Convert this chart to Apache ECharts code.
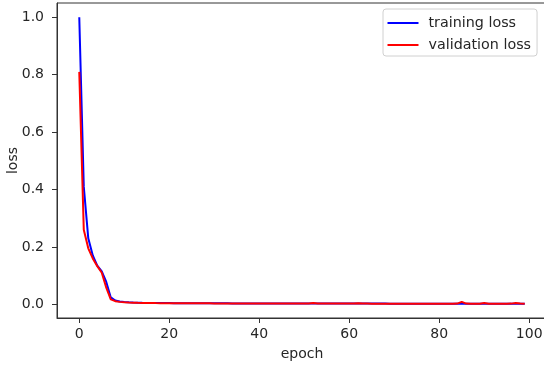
<!DOCTYPE html>
<html>
<head>
<meta charset="utf-8">
<script src="https://cdn.jsdelivr.net/npm/echarts@6/dist/echarts.min.js"></script>
<style>html,body{margin:0;padding:0;background:#fff}#c{width:544px;height:367px}</style>
</head>
<body>
<div id="c"></div>
<script>
const trainLoss = [
  1.0, 0.41, 0.23, 0.17, 0.135, 0.115, 0.078, 0.024, 0.013, 0.0095,
  0.0078, 0.0068, 0.0062, 0.0057, 0.0053, 0.005, 0.0048, 0.0046, 0.0044, 0.0043,
  0.0042, 0.0041, 0.004, 0.0039, 0.0038, 0.0037, 0.0037, 0.0036, 0.0035, 0.0035,
  0.0034, 0.0034, 0.0033, 0.0033, 0.0032, 0.0032, 0.0031, 0.0031, 0.0031, 0.003,
  0.003, 0.003, 0.0029, 0.0029, 0.0029, 0.0028, 0.0028, 0.0028, 0.0028, 0.0027,
  0.0027, 0.0027, 0.0027, 0.0026, 0.0026, 0.0026, 0.0026, 0.0026, 0.0025, 0.0025,
  0.0025, 0.0025, 0.0025, 0.0024, 0.0024, 0.0024, 0.0024, 0.0024, 0.0024, 0.0023,
  0.0023, 0.0023, 0.0023, 0.0023, 0.0023, 0.0023, 0.0022, 0.0022, 0.0022, 0.0022,
  0.0022, 0.0022, 0.0022, 0.0022, 0.0022, 0.0023, 0.0022, 0.0021, 0.0021, 0.0021,
  0.0022, 0.0021, 0.0021, 0.0021, 0.0021, 0.0021, 0.0021, 0.0022, 0.0021, 0.0021
];
const valLoss = [
  0.81, 0.26, 0.195, 0.16, 0.133, 0.11, 0.058, 0.017, 0.011, 0.0085,
  0.007, 0.0062, 0.0056, 0.0052, 0.0049, 0.0046, 0.0044, 0.0042, 0.0041, 0.004,
  0.0039, 0.0038, 0.0037, 0.0036, 0.0036, 0.0035, 0.0034, 0.0034, 0.0033, 0.0033,
  0.0032, 0.0032, 0.0032, 0.0031, 0.0031, 0.003, 0.003, 0.003, 0.0029, 0.0029,
  0.0029, 0.0028, 0.0028, 0.0028, 0.0028, 0.0027, 0.0027, 0.0027, 0.0027, 0.0026,
  0.0026, 0.0026, 0.0042, 0.0026, 0.0025, 0.0025, 0.0025, 0.0025, 0.0025, 0.0024,
  0.0024, 0.0024, 0.0034, 0.0024, 0.0024, 0.0023, 0.0023, 0.0023, 0.0023, 0.0023,
  0.0023, 0.0023, 0.0022, 0.0022, 0.0022, 0.0022, 0.0022, 0.0022, 0.0022, 0.0022,
  0.0022, 0.0022, 0.0022, 0.0022, 0.0024, 0.0085, 0.0024, 0.0022, 0.0021, 0.0022,
  0.0045, 0.0022, 0.0021, 0.0021, 0.0021, 0.0021, 0.0024, 0.0042, 0.0028, 0.0022
];
const seriesNames = ['training loss', 'validation loss'];
const xTicks = [0, 20, 40, 60, 80, 100];
const yTicks = [0, 0.2, 0.4, 0.6, 0.8, 1.0];
const xLabel = 'epoch';
const yLabel = 'loss';

const font = 'DejaVu Sans';
const fs = 14;
const txt = '#262626';
const toPairs = arr => arr.map((v, i) => [i, v]);

const chart = echarts.init(document.getElementById('c'), null, {renderer: 'canvas'});
chart.setOption({
  animation: false,
  backgroundColor: '#fff',
  textStyle: {fontFamily: font},
  grid: {left: 57, top: 3, width: 490, height: 315, containLabel: false, outerBoundsMode: 'none',
         show: true, borderColor: '#333', borderWidth: 1, backgroundColor: 'transparent'},
  legend: {
    orient: 'vertical', left: 383, top: 9,
    data: seriesNames,
    icon: 'rect', itemWidth: 31, itemHeight: 2, itemGap: 8,
    padding: [7, 6, 4, 4.5],
    borderColor: '#d0d0d0', borderWidth: 1, borderRadius: 3,
    backgroundColor: 'rgba(255,255,255,0.8)',
    textStyle: {fontFamily: font, fontSize: 14.3, color: txt, padding: [0, 0, 0, 5]}
  },
  xAxis: {
    type: 'value', min: -4.95, max: 103.95,
    splitLine: {show: false},
    axisLine: {onZero: false, lineStyle: {color: '#333', width: 1}},
    axisTick: {show: true, length: 5, lineStyle: {color: '#333'}, customValues: xTicks},
    axisLabel: {fontFamily: font, fontSize: fs, color: txt, margin: 9, customValues: xTicks, formatter: v => String(v)},
    name: xLabel, nameLocation: 'middle', nameGap: 29, nameMoveOverlap: false,
    nameTextStyle: {fontFamily: font, fontSize: fs, color: txt}
  },
  yAxis: {
    type: 'value', min: -0.0477, max: 1.0499,
    splitLine: {show: false},
    axisLine: {onZero: false, lineStyle: {color: '#333', width: 1}},
    axisTick: {show: true, length: 5, lineStyle: {color: '#333'}, customValues: yTicks},
    axisLabel: {fontFamily: font, fontSize: fs, color: txt, margin: 13, customValues: yTicks, formatter: v => v.toFixed(1)},
    name: yLabel, nameLocation: 'middle', nameGap: 37, nameMoveOverlap: false,
    nameTextStyle: {fontFamily: font, fontSize: fs, color: txt}
  },
  series: [
    {name: seriesNames[0], type: 'line', data: toPairs(trainLoss), showSymbol: false, symbol: 'none',
     lineStyle: {color: '#0000ff', width: 2}, itemStyle: {color: '#0000ff'}},
    {name: seriesNames[1], type: 'line', data: toPairs(valLoss), showSymbol: false, symbol: 'none',
     lineStyle: {color: '#ff0000', width: 2}, itemStyle: {color: '#ff0000'}}
  ]
});
</script>
</body>
</html>
